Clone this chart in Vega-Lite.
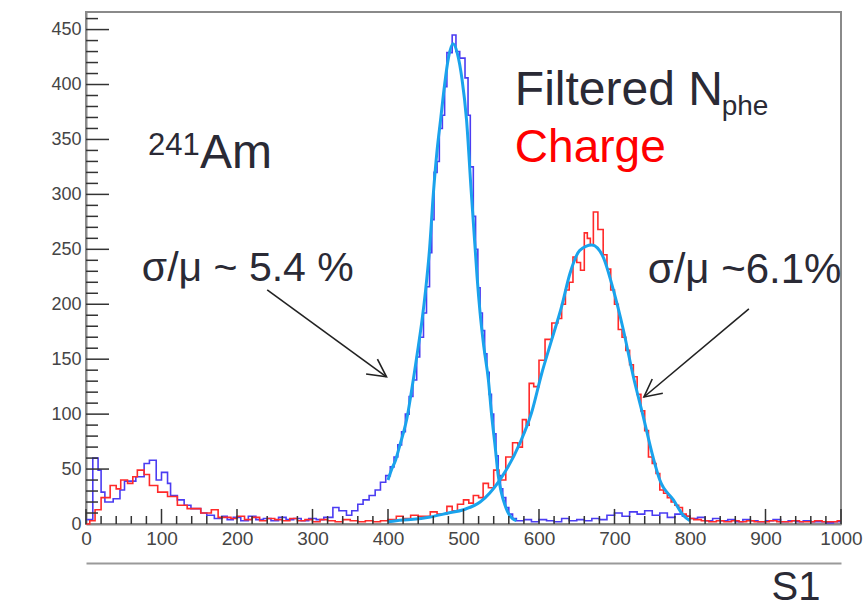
{
  "$schema": "https://vega.github.io/schema/vega-lite/v6.json",
  "width": 755,
  "height": 512,
  "autosize": "none",
  "padding": {"left": 86, "top": 12, "right": 22, "bottom": 80},
  "background": "white",
  "config": {
    "view": {"stroke": "#8a8a8a", "strokeWidth": 2},
    "font": "Liberation Sans"
  },
  "datasets": {
    "nphe": [
      {"x":0,"y":4},{"x":9,"y":60},{"x":16,"y":49},{"x":20,"y":29},{"x":25,"y":20},{"x":36,"y":23},{"x":45,"y":31},{"x":51,"y":39},{"x":66,"y":43},{"x":77,"y":55},{"x":84,"y":58},{"x":93,"y":40},{"x":100,"y":47},{"x":108,"y":37},{"x":112,"y":26},{"x":121,"y":22},{"x":130,"y":17},{"x":139,"y":14},{"x":152,"y":10},{"x":160,"y":8},{"x":170,"y":5},{"x":180,"y":7},{"x":187,"y":4},{"x":195,"y":6},{"x":205,"y":3},{"x":215,"y":7},{"x":225,"y":4},{"x":235,"y":5},{"x":245,"y":3},{"x":255,"y":6},{"x":265,"y":4},{"x":275,"y":5},{"x":285,"y":3},{"x":295,"y":5},{"x":305,"y":4},{"x":315,"y":6},{"x":327,"y":15},{"x":335,"y":12},{"x":345,"y":8},{"x":352,"y":12},{"x":360,"y":18},{"x":367,"y":22},{"x":375,"y":26},{"x":383,"y":31},{"x":390,"y":38},{"x":397,"y":44},{"x":403,"y":52},{"x":408,"y":61},{"x":413,"y":72},{"x":418,"y":84},{"x":423,"y":100},{"x":428,"y":116},{"x":433,"y":131},{"x":438,"y":152},{"x":442,"y":170},{"x":447,"y":192},{"x":451,"y":216},{"x":455,"y":247},{"x":458,"y":277},{"x":461,"y":320},{"x":465,"y":330},{"x":468,"y":360},{"x":472,"y":372},{"x":475,"y":398},{"x":478,"y":429},{"x":485,"y":445},{"x":490,"y":430},{"x":495,"y":424},{"x":502,"y":406},{"x":506,"y":372},{"x":509,"y":325},{"x":513,"y":280},{"x":516,"y":250},{"x":519,"y":215},{"x":522,"y":192},{"x":525,"y":176},{"x":528,"y":155},{"x":531,"y":138},{"x":534,"y":118},{"x":537,"y":100},{"x":540,"y":82},{"x":543,"y":62},{"x":546,"y":44},{"x":549,"y":32},{"x":552,"y":24},{"x":556,"y":15},{"x":560,"y":9},{"x":565,"y":5},{"x":570,"y":3},{"x":580,"y":4},{"x":590,"y":2},{"x":600,"y":4},{"x":610,"y":3},{"x":620,"y":2},{"x":630,"y":5},{"x":640,"y":3},{"x":650,"y":4},{"x":660,"y":3},{"x":670,"y":5},{"x":680,"y":4},{"x":690,"y":8},{"x":700,"y":10},{"x":710,"y":7},{"x":720,"y":11},{"x":730,"y":9},{"x":740,"y":12},{"x":750,"y":8},{"x":760,"y":10},{"x":770,"y":6},{"x":780,"y":9},{"x":790,"y":7},{"x":800,"y":5},{"x":810,"y":6},{"x":820,"y":3},{"x":830,"y":5},{"x":840,"y":3},{"x":850,"y":4},{"x":860,"y":2},{"x":870,"y":4},{"x":880,"y":3},{"x":890,"y":2},{"x":900,"y":3},{"x":910,"y":4},{"x":920,"y":2},{"x":930,"y":3},{"x":940,"y":2},{"x":950,"y":3},{"x":960,"y":2},{"x":970,"y":2},{"x":980,"y":1},{"x":990,"y":2},{"x":1000,"y":2}
    ],
    "charge": [
      {"x":0,"y":0},{"x":5,"y":3},{"x":12,"y":13},{"x":20,"y":24},{"x":32,"y":35},{"x":40,"y":32},{"x":46,"y":40},{"x":55,"y":37},{"x":62,"y":43},{"x":68,"y":49},{"x":77,"y":45},{"x":84,"y":35},{"x":95,"y":29},{"x":108,"y":25},{"x":121,"y":17},{"x":134,"y":14},{"x":152,"y":10},{"x":166,"y":13},{"x":175,"y":6},{"x":192,"y":5},{"x":200,"y":7},{"x":210,"y":4},{"x":220,"y":6},{"x":230,"y":3},{"x":240,"y":5},{"x":250,"y":4},{"x":260,"y":3},{"x":270,"y":5},{"x":280,"y":3},{"x":290,"y":4},{"x":300,"y":2},{"x":310,"y":4},{"x":320,"y":3},{"x":330,"y":2},{"x":340,"y":4},{"x":350,"y":3},{"x":360,"y":2},{"x":370,"y":3},{"x":380,"y":2},{"x":390,"y":3},{"x":400,"y":4},{"x":411,"y":7},{"x":420,"y":5},{"x":430,"y":8},{"x":440,"y":7},{"x":456,"y":11},{"x":465,"y":9},{"x":478,"y":16},{"x":485,"y":12},{"x":492,"y":18},{"x":500,"y":22},{"x":507,"y":19},{"x":513,"y":26},{"x":520,"y":24},{"x":526,"y":37},{"x":533,"y":33},{"x":540,"y":49},{"x":547,"y":40},{"x":556,"y":61},{"x":565,"y":74},{"x":572,"y":70},{"x":578,"y":95},{"x":583,"y":90},{"x":587,"y":128},{"x":593,"y":125},{"x":600,"y":149},{"x":608,"y":168},{"x":617,"y":183},{"x":625,"y":187},{"x":630,"y":200},{"x":635,"y":213},{"x":640,"y":220},{"x":645,"y":243},{"x":650,"y":238},{"x":655,"y":231},{"x":660,"y":265},{"x":664,"y":260},{"x":668,"y":254},{"x":672,"y":284},{"x":678,"y":268},{"x":685,"y":245},{"x":690,"y":232},{"x":695,"y":213},{"x":700,"y":200},{"x":705,"y":177},{"x":710,"y":170},{"x":715,"y":158},{"x":720,"y":145},{"x":725,"y":134},{"x":730,"y":118},{"x":735,"y":103},{"x":740,"y":85},{"x":745,"y":61},{"x":750,"y":55},{"x":755,"y":46},{"x":760,"y":31},{"x":765,"y":28},{"x":770,"y":24},{"x":775,"y":20},{"x":780,"y":17},{"x":785,"y":15},{"x":790,"y":9},{"x":795,"y":7},{"x":800,"y":5},{"x":805,"y":4},{"x":815,"y":3},{"x":825,"y":2},{"x":835,"y":3},{"x":845,"y":2},{"x":855,"y":3},{"x":865,"y":2},{"x":875,"y":3},{"x":885,"y":2},{"x":895,"y":2},{"x":905,"y":3},{"x":915,"y":2},{"x":925,"y":2},{"x":935,"y":3},{"x":945,"y":2},{"x":955,"y":2},{"x":965,"y":3},{"x":975,"y":2},{"x":985,"y":2},{"x":995,"y":3},{"x":1000,"y":3}
    ],
    "fitN": [
      {"x":400,"y":40},{"x":405,"y":50},{"x":410,"y":58},{"x":415,"y":70},{"x":420,"y":82},{"x":425,"y":96},{"x":430,"y":116},{"x":435,"y":138},{"x":440,"y":161},{"x":445,"y":185},{"x":450,"y":214},{"x":455,"y":250},{"x":460,"y":300},{"x":465,"y":340},{"x":470,"y":370},{"x":475,"y":400},{"x":480,"y":424},{"x":486,"y":437},{"x":492,"y":428},{"x":498,"y":405},{"x":504,"y":368},{"x":510,"y":305},{"x":515,"y":255},{"x":518,"y":225},{"x":522,"y":192},{"x":527,"y":161},{"x":533,"y":131},{"x":537,"y":101},{"x":542,"y":70},{"x":546,"y":44},{"x":550,"y":29},{"x":555,"y":17},{"x":560,"y":9},{"x":565,"y":5},{"x":570,"y":3}
    ],
    "fitC": [
      {"x":400,"y":2},{"x":411,"y":3},{"x":430,"y":4},{"x":456,"y":6.4},{"x":480,"y":10},{"x":500,"y":13},{"x":522,"y":20},{"x":548,"y":40},{"x":575,"y":74},{"x":590,"y":101},{"x":603.6,"y":137},{"x":617,"y":168},{"x":630,"y":198},{"x":641,"y":228},{"x":654,"y":249},{"x":670,"y":254},{"x":685,"y":243},{"x":698.5,"y":213},{"x":711.6,"y":177},{"x":725,"y":134},{"x":738,"y":98},{"x":751,"y":61},{"x":760,"y":40},{"x":778,"y":22},{"x":791,"y":8},{"x":800,"y":3}
    ],
    "arrows": [
      {"a":"a1","i":1,"x":240,"y":213},{"a":"a1","i":2,"x":398,"y":134},
      {"a":"h1","i":1,"x":371,"y":136.5},{"a":"h1","i":2,"x":398,"y":134},{"a":"h1","i":3,"x":386,"y":150},
      {"a":"a2","i":1,"x":878,"y":195.7},{"a":"a2","i":2,"x":739,"y":115.6},
      {"a":"h2","i":1,"x":764,"y":119},{"a":"h2","i":2,"x":739,"y":115.6},{"a":"h2","i":3,"x":750,"y":132}
    ],
    "ticks": [
      {"t":"x0","i":1,"x":0,"y":0},{"t":"x0","i":2,"x":0,"y":13.7},
      {"t":"x100","i":1,"x":100,"y":0},{"t":"x100","i":2,"x":100,"y":13.7},
      {"t":"x200","i":1,"x":200,"y":0},{"t":"x200","i":2,"x":200,"y":13.7},
      {"t":"x300","i":1,"x":300,"y":0},{"t":"x300","i":2,"x":300,"y":13.7},
      {"t":"x400","i":1,"x":400,"y":0},{"t":"x400","i":2,"x":400,"y":13.7},
      {"t":"x500","i":1,"x":500,"y":0},{"t":"x500","i":2,"x":500,"y":13.7},
      {"t":"x600","i":1,"x":600,"y":0},{"t":"x600","i":2,"x":600,"y":13.7},
      {"t":"x700","i":1,"x":700,"y":0},{"t":"x700","i":2,"x":700,"y":13.7},
      {"t":"x800","i":1,"x":800,"y":0},{"t":"x800","i":2,"x":800,"y":13.7},
      {"t":"x900","i":1,"x":900,"y":0},{"t":"x900","i":2,"x":900,"y":13.7},
      {"t":"x1000","i":1,"x":1000,"y":0},{"t":"x1000","i":2,"x":1000,"y":13.7},
      {"t":"m20","i":1,"x":20,"y":0},{"t":"m20","i":2,"x":20,"y":7.3},
      {"t":"m40","i":1,"x":40,"y":0},{"t":"m40","i":2,"x":40,"y":7.3},
      {"t":"m60","i":1,"x":60,"y":0},{"t":"m60","i":2,"x":60,"y":7.3},
      {"t":"m80","i":1,"x":80,"y":0},{"t":"m80","i":2,"x":80,"y":7.3},
      {"t":"m120","i":1,"x":120,"y":0},{"t":"m120","i":2,"x":120,"y":7.3},
      {"t":"m140","i":1,"x":140,"y":0},{"t":"m140","i":2,"x":140,"y":7.3},
      {"t":"m160","i":1,"x":160,"y":0},{"t":"m160","i":2,"x":160,"y":7.3},
      {"t":"m180","i":1,"x":180,"y":0},{"t":"m180","i":2,"x":180,"y":7.3},
      {"t":"m220","i":1,"x":220,"y":0},{"t":"m220","i":2,"x":220,"y":7.3},
      {"t":"m240","i":1,"x":240,"y":0},{"t":"m240","i":2,"x":240,"y":7.3},
      {"t":"m260","i":1,"x":260,"y":0},{"t":"m260","i":2,"x":260,"y":7.3},
      {"t":"m280","i":1,"x":280,"y":0},{"t":"m280","i":2,"x":280,"y":7.3},
      {"t":"m320","i":1,"x":320,"y":0},{"t":"m320","i":2,"x":320,"y":7.3},
      {"t":"m340","i":1,"x":340,"y":0},{"t":"m340","i":2,"x":340,"y":7.3},
      {"t":"m360","i":1,"x":360,"y":0},{"t":"m360","i":2,"x":360,"y":7.3},
      {"t":"m380","i":1,"x":380,"y":0},{"t":"m380","i":2,"x":380,"y":7.3},
      {"t":"m420","i":1,"x":420,"y":0},{"t":"m420","i":2,"x":420,"y":7.3},
      {"t":"m440","i":1,"x":440,"y":0},{"t":"m440","i":2,"x":440,"y":7.3},
      {"t":"m460","i":1,"x":460,"y":0},{"t":"m460","i":2,"x":460,"y":7.3},
      {"t":"m480","i":1,"x":480,"y":0},{"t":"m480","i":2,"x":480,"y":7.3},
      {"t":"m520","i":1,"x":520,"y":0},{"t":"m520","i":2,"x":520,"y":7.3},
      {"t":"m540","i":1,"x":540,"y":0},{"t":"m540","i":2,"x":540,"y":7.3},
      {"t":"m560","i":1,"x":560,"y":0},{"t":"m560","i":2,"x":560,"y":7.3},
      {"t":"m580","i":1,"x":580,"y":0},{"t":"m580","i":2,"x":580,"y":7.3},
      {"t":"m620","i":1,"x":620,"y":0},{"t":"m620","i":2,"x":620,"y":7.3},
      {"t":"m640","i":1,"x":640,"y":0},{"t":"m640","i":2,"x":640,"y":7.3},
      {"t":"m660","i":1,"x":660,"y":0},{"t":"m660","i":2,"x":660,"y":7.3},
      {"t":"m680","i":1,"x":680,"y":0},{"t":"m680","i":2,"x":680,"y":7.3},
      {"t":"m720","i":1,"x":720,"y":0},{"t":"m720","i":2,"x":720,"y":7.3},
      {"t":"m740","i":1,"x":740,"y":0},{"t":"m740","i":2,"x":740,"y":7.3},
      {"t":"m760","i":1,"x":760,"y":0},{"t":"m760","i":2,"x":760,"y":7.3},
      {"t":"m780","i":1,"x":780,"y":0},{"t":"m780","i":2,"x":780,"y":7.3},
      {"t":"m820","i":1,"x":820,"y":0},{"t":"m820","i":2,"x":820,"y":7.3},
      {"t":"m840","i":1,"x":840,"y":0},{"t":"m840","i":2,"x":840,"y":7.3},
      {"t":"m860","i":1,"x":860,"y":0},{"t":"m860","i":2,"x":860,"y":7.3},
      {"t":"m880","i":1,"x":880,"y":0},{"t":"m880","i":2,"x":880,"y":7.3},
      {"t":"m920","i":1,"x":920,"y":0},{"t":"m920","i":2,"x":920,"y":7.3},
      {"t":"m940","i":1,"x":940,"y":0},{"t":"m940","i":2,"x":940,"y":7.3},
      {"t":"m960","i":1,"x":960,"y":0},{"t":"m960","i":2,"x":960,"y":7.3},
      {"t":"m980","i":1,"x":980,"y":0},{"t":"m980","i":2,"x":980,"y":7.3},
      {"t":"y50","i":1,"x":0,"y":50},{"t":"y50","i":2,"x":30.5,"y":50},
      {"t":"y100","i":1,"x":0,"y":100},{"t":"y100","i":2,"x":30.5,"y":100},
      {"t":"y150","i":1,"x":0,"y":150},{"t":"y150","i":2,"x":30.5,"y":150},
      {"t":"y200","i":1,"x":0,"y":200},{"t":"y200","i":2,"x":30.5,"y":200},
      {"t":"y250","i":1,"x":0,"y":250},{"t":"y250","i":2,"x":30.5,"y":250},
      {"t":"y300","i":1,"x":0,"y":300},{"t":"y300","i":2,"x":30.5,"y":300},
      {"t":"y350","i":1,"x":0,"y":350},{"t":"y350","i":2,"x":30.5,"y":350},
      {"t":"y400","i":1,"x":0,"y":400},{"t":"y400","i":2,"x":30.5,"y":400},
      {"t":"y450","i":1,"x":0,"y":450},{"t":"y450","i":2,"x":30.5,"y":450},
      {"t":"n10","i":1,"x":0,"y":10},{"t":"n10","i":2,"x":15.9,"y":10},
      {"t":"n20","i":1,"x":0,"y":20},{"t":"n20","i":2,"x":15.9,"y":20},
      {"t":"n30","i":1,"x":0,"y":30},{"t":"n30","i":2,"x":15.9,"y":30},
      {"t":"n40","i":1,"x":0,"y":40},{"t":"n40","i":2,"x":15.9,"y":40},
      {"t":"n60","i":1,"x":0,"y":60},{"t":"n60","i":2,"x":15.9,"y":60},
      {"t":"n70","i":1,"x":0,"y":70},{"t":"n70","i":2,"x":15.9,"y":70},
      {"t":"n80","i":1,"x":0,"y":80},{"t":"n80","i":2,"x":15.9,"y":80},
      {"t":"n90","i":1,"x":0,"y":90},{"t":"n90","i":2,"x":15.9,"y":90},
      {"t":"n110","i":1,"x":0,"y":110},{"t":"n110","i":2,"x":15.9,"y":110},
      {"t":"n120","i":1,"x":0,"y":120},{"t":"n120","i":2,"x":15.9,"y":120},
      {"t":"n130","i":1,"x":0,"y":130},{"t":"n130","i":2,"x":15.9,"y":130},
      {"t":"n140","i":1,"x":0,"y":140},{"t":"n140","i":2,"x":15.9,"y":140},
      {"t":"n160","i":1,"x":0,"y":160},{"t":"n160","i":2,"x":15.9,"y":160},
      {"t":"n170","i":1,"x":0,"y":170},{"t":"n170","i":2,"x":15.9,"y":170},
      {"t":"n180","i":1,"x":0,"y":180},{"t":"n180","i":2,"x":15.9,"y":180},
      {"t":"n190","i":1,"x":0,"y":190},{"t":"n190","i":2,"x":15.9,"y":190},
      {"t":"n210","i":1,"x":0,"y":210},{"t":"n210","i":2,"x":15.9,"y":210},
      {"t":"n220","i":1,"x":0,"y":220},{"t":"n220","i":2,"x":15.9,"y":220},
      {"t":"n230","i":1,"x":0,"y":230},{"t":"n230","i":2,"x":15.9,"y":230},
      {"t":"n240","i":1,"x":0,"y":240},{"t":"n240","i":2,"x":15.9,"y":240},
      {"t":"n260","i":1,"x":0,"y":260},{"t":"n260","i":2,"x":15.9,"y":260},
      {"t":"n270","i":1,"x":0,"y":270},{"t":"n270","i":2,"x":15.9,"y":270},
      {"t":"n280","i":1,"x":0,"y":280},{"t":"n280","i":2,"x":15.9,"y":280},
      {"t":"n290","i":1,"x":0,"y":290},{"t":"n290","i":2,"x":15.9,"y":290},
      {"t":"n310","i":1,"x":0,"y":310},{"t":"n310","i":2,"x":15.9,"y":310},
      {"t":"n320","i":1,"x":0,"y":320},{"t":"n320","i":2,"x":15.9,"y":320},
      {"t":"n330","i":1,"x":0,"y":330},{"t":"n330","i":2,"x":15.9,"y":330},
      {"t":"n340","i":1,"x":0,"y":340},{"t":"n340","i":2,"x":15.9,"y":340},
      {"t":"n360","i":1,"x":0,"y":360},{"t":"n360","i":2,"x":15.9,"y":360},
      {"t":"n370","i":1,"x":0,"y":370},{"t":"n370","i":2,"x":15.9,"y":370},
      {"t":"n380","i":1,"x":0,"y":380},{"t":"n380","i":2,"x":15.9,"y":380},
      {"t":"n390","i":1,"x":0,"y":390},{"t":"n390","i":2,"x":15.9,"y":390},
      {"t":"n410","i":1,"x":0,"y":410},{"t":"n410","i":2,"x":15.9,"y":410},
      {"t":"n420","i":1,"x":0,"y":420},{"t":"n420","i":2,"x":15.9,"y":420},
      {"t":"n430","i":1,"x":0,"y":430},{"t":"n430","i":2,"x":15.9,"y":430},
      {"t":"n440","i":1,"x":0,"y":440},{"t":"n440","i":2,"x":15.9,"y":440},
      {"t":"n460","i":1,"x":0,"y":460},{"t":"n460","i":2,"x":15.9,"y":460}
    ],
    "one": [{}]
  },
  "resolve": {"axis": {"x": "independent", "y": "independent"}},
  "layer": [
    {
      "data": {"name": "nphe"},
      "mark": {"type": "line", "interpolate": "step-after", "color": "#4b3cf2", "strokeWidth": 1.6},
      "encoding": {
        "x": {"field": "x", "type": "quantitative", "scale": {"domain": [0, 1000], "nice": false},
          "axis": {"orient": "bottom", "values": [0,100,200,300,400,500,600,700,800,900,1000], "format": "d", "ticks": false, "labelPadding": 5, "labelFontSize": 19, "labelColor": "#454545", "labelFont": "Liberation Sans", "domainColor": "#8a8a8a", "domainWidth": 2, "grid": false, "title": null, "labelFlush": false}},
        "y": {"field": "y", "type": "quantitative", "scale": {"domain": [0, 466], "nice": false},
          "axis": {"orient": "left", "values": [0,50,100,150,200,250,300,350,400,450], "format": "d", "ticks": false, "labelPadding": 5, "labelFontSize": 18, "labelColor": "#454545", "labelFont": "Liberation Sans", "domainColor": "#8a8a8a", "domainWidth": 2, "grid": false, "title": null, "labelFlush": false}}
      }
    },
    {
      "data": {"name": "charge"},
      "mark": {"type": "line", "interpolate": "step-after", "color": "#ff2a2a", "strokeWidth": 1.6},
      "encoding": {
        "x": {"field": "x", "type": "quantitative", "scale": {"domain": [0, 1000], "nice": false}, "axis": null},
        "y": {"field": "y", "type": "quantitative", "scale": {"domain": [0, 466], "nice": false}, "axis": null}
      }
    },
    {
      "data": {"name": "fitN"},
      "mark": {"type": "line", "interpolate": "monotone", "color": "#1aa3ec", "strokeWidth": 3},
      "encoding": {
        "x": {"field": "x", "type": "quantitative", "scale": {"domain": [0, 1000], "nice": false},
          "axis": {"orient": "bottom", "offset": 39, "ticks": false, "labels": false, "grid": false, "domainColor": "#9a9a9a", "domainWidth": 2, "title": "S1", "titleFontSize": 40, "titleFontWeight": "normal", "titleColor": "#2a2a35", "titleFont": "Liberation Sans", "titleAnchor": null, "titleAlign": "right", "titleBaseline": "alphabetic", "titleX": 734, "titleY": 36}},
        "y": {"field": "y", "type": "quantitative", "scale": {"domain": [0, 466], "nice": false}, "axis": null}
      }
    },
    {
      "data": {"name": "fitC"},
      "mark": {"type": "line", "interpolate": "monotone", "color": "#1aa3ec", "strokeWidth": 3},
      "encoding": {
        "x": {"field": "x", "type": "quantitative", "scale": {"domain": [0, 1000], "nice": false}, "axis": null},
        "y": {"field": "y", "type": "quantitative", "scale": {"domain": [0, 466], "nice": false}, "axis": null}
      }
    },
    {
      "data": {"name": "ticks"},
      "mark": {"type": "line", "color": "#333333", "strokeWidth": 1.5, "clip": false},
      "encoding": {
        "x": {"field": "x", "type": "quantitative", "scale": {"domain": [0, 1000], "nice": false}, "axis": null},
        "y": {"field": "y", "type": "quantitative", "scale": {"domain": [0, 466], "nice": false}, "axis": null},
        "detail": {"field": "t"},
        "order": {"field": "i", "type": "quantitative"}
      }
    },
    {
      "data": {"name": "arrows"},
      "mark": {"type": "line", "color": "#222222", "strokeWidth": 1.6, "clip": false},
      "encoding": {
        "x": {"field": "x", "type": "quantitative", "scale": {"domain": [0, 1000], "nice": false}, "axis": null},
        "y": {"field": "y", "type": "quantitative", "scale": {"domain": [0, 466], "nice": false}, "axis": null},
        "detail": {"field": "a"},
        "order": {"field": "i", "type": "quantitative"}
      }
    },
    {
      "data": {"name": "one"},
      "mark": {"type": "text", "align": "left", "baseline": "alphabetic", "fontSize": 48, "color": "#2a2a35", "font": "Liberation Sans"},
      "encoding": {"x": {"datum": 568, "axis": null}, "y": {"datum": 381, "axis": null}, "text": {"value": "Filtered N"}}
    },
    {
      "data": {"name": "one"},
      "mark": {"type": "text", "align": "left", "baseline": "alphabetic", "fontSize": 28, "color": "#2a2a35", "font": "Liberation Sans"},
      "encoding": {"x": {"datum": 842, "axis": null}, "y": {"datum": 372, "axis": null}, "text": {"value": "phe"}}
    },
    {
      "data": {"name": "one"},
      "mark": {"type": "text", "align": "left", "baseline": "alphabetic", "fontSize": 46, "color": "#ff0000", "font": "Liberation Sans"},
      "encoding": {"x": {"datum": 568, "axis": null}, "y": {"datum": 329.5, "axis": null}, "text": {"value": "Charge"}}
    },
    {
      "data": {"name": "one"},
      "mark": {"type": "text", "align": "left", "baseline": "alphabetic", "fontSize": 48, "color": "#2a2a35", "font": "Liberation Sans"},
      "encoding": {"x": {"datum": 151, "axis": null}, "y": {"datum": 324, "axis": null}, "text": {"value": "Am"}}
    },
    {
      "data": {"name": "one"},
      "mark": {"type": "text", "align": "left", "baseline": "alphabetic", "fontSize": 31, "color": "#2a2a35", "font": "Liberation Sans"},
      "encoding": {"x": {"datum": 82, "axis": null}, "y": {"datum": 336, "axis": null}, "text": {"value": "241"}}
    },
    {
      "data": {"name": "one"},
      "mark": {"type": "text", "align": "left", "baseline": "alphabetic", "fontSize": 41, "color": "#2a2a35", "font": "Liberation Sans"},
      "encoding": {"x": {"datum": 74, "axis": null}, "y": {"datum": 221, "axis": null}, "text": {"value": "σ/μ ~ 5.4 %"}}
    },
    {
      "data": {"name": "one"},
      "mark": {"type": "text", "align": "left", "baseline": "alphabetic", "fontSize": 42, "color": "#2a2a35", "font": "Liberation Sans"},
      "encoding": {"x": {"datum": 744, "axis": null}, "y": {"datum": 219, "axis": null}, "text": {"value": "σ/μ ~6.1%"}}
    }
  ]
}
